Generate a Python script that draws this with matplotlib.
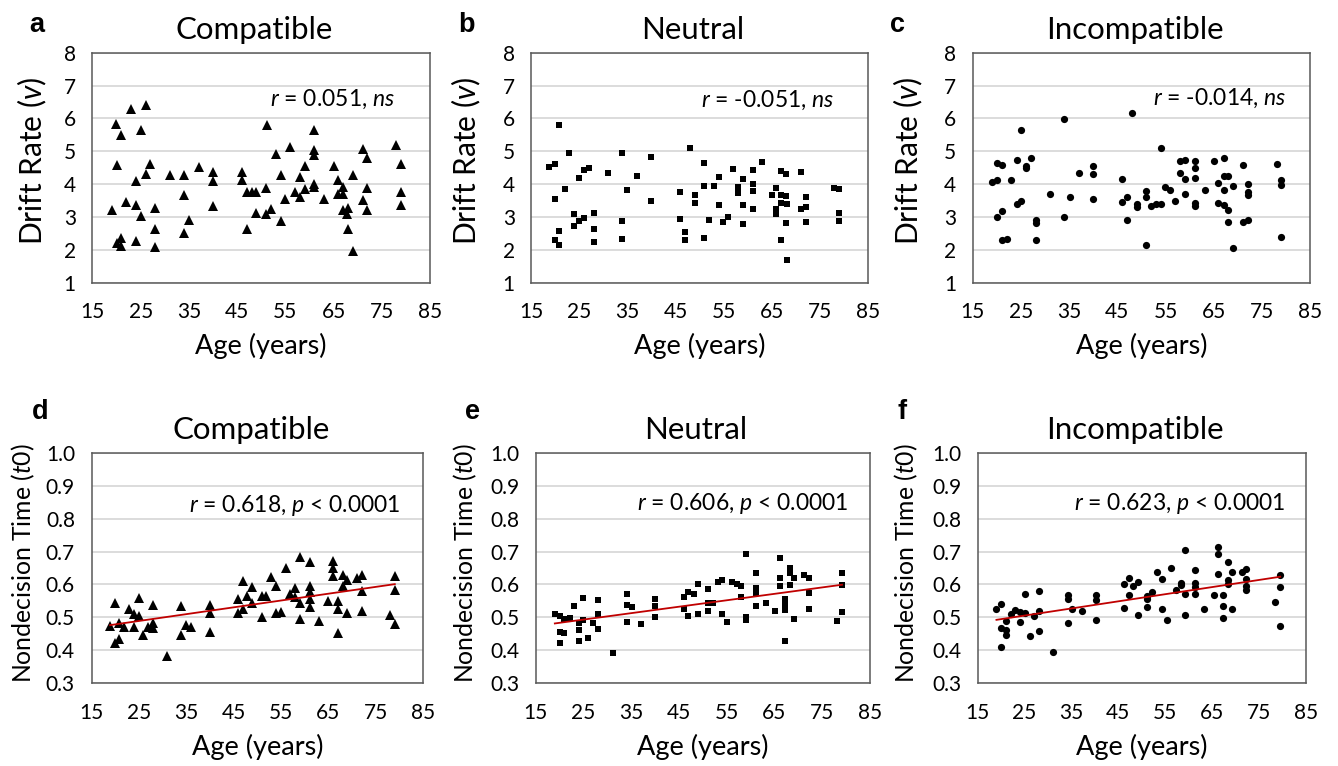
import matplotlib
matplotlib.use("Agg")
import matplotlib.pyplot as plt
import numpy as np

# ---- data ----
# a: Compatible drift rate
a_age = [23, 26, 19.8, 21, 25, 20, 27, 26, 24.1, 31, 34, 37, 40, 40, 34, 19, 22, 24, 25, 28,
         40, 35, 28, 34, 21, 20, 21, 24, 28,
         51.1, 61, 55.9, 53, 61, 61, 71, 72, 78, 79, 59, 65, 46, 46, 54, 58, 66, 69,
         47, 48, 49, 51, 61, 61, 59, 57, 58, 55, 63, 67, 66, 67, 72, 71, 72, 67, 68, 67.7,
         49, 51, 52, 54, 47, 68, 69, 79, 79]
a_drift = [6.29, 6.40, 5.82, 5.50, 5.65, 4.58, 4.62, 4.30, 4.10, 4.27, 4.27, 4.52, 4.36, 4.09,
           3.68, 3.21, 3.46, 3.36, 3.03, 3.28, 3.33, 2.91, 2.64, 2.52, 2.37, 2.22, 2.11, 2.27, 2.10,
           5.79, 5.66, 5.13, 4.92, 5.05, 4.90, 5.07, 4.79, 5.20, 4.60, 4.55, 4.55, 4.36, 4.13,
           4.29, 4.23, 4.13, 4.28, 3.77, 3.77, 3.77, 3.89, 3.99, 3.91, 3.86, 3.76, 3.62, 3.56,
           3.56, 3.92, 3.70, 3.70, 3.88, 3.52, 3.21, 3.21, 3.26, 3.10, 3.12, 3.09, 3.25, 2.89,
           2.65, 2.64, 1.98, 3.77, 3.38]

# b: Neutral drift rate
b_age = [20.8, 18.7, 19.8, 22.9, 21.9, 19.8, 24.9, 25.9, 26.9, 30.9, 33.9, 36.9, 39.9, 34.9,
         39.9, 23.9, 23.9, 24.9, 25.9, 27.9, 27.9, 27.9, 20.8, 19.8, 20.8, 33.9, 33.9,
         47.9, 50.9, 56.9, 61, 63, 66.9, 67.9, 71, 53.9, 58.9, 50.9, 52.9, 58, 58, 61, 61,
         45.9, 48.9, 48.9, 53.9, 58.9, 61, 65.9, 64.9, 66.9, 67.9, 66.9, 68, 65.9, 65.9,
         71, 72, 72, 72, 77.9, 79, 79, 79, 45.9, 46.9, 46.9, 50.9, 51.9, 54.9, 55.9, 58.9,
         67.9, 66.9, 68]
b_drift = [5.79, 4.51, 4.61, 4.96, 3.85, 3.56, 4.18, 4.43, 4.50, 4.33, 4.96, 4.26, 4.82, 3.81,
           3.50, 3.09, 2.73, 2.88, 2.98, 3.12, 2.62, 2.24, 2.57, 2.29, 2.14, 2.88, 2.34,
           5.09, 4.65, 4.45, 4.44, 4.67, 4.40, 4.30, 4.36, 4.22, 4.16, 3.93, 3.95, 3.90, 3.74,
           4.00, 3.79, 3.75, 3.68, 3.43, 3.38, 3.38, 3.25, 3.88, 3.68, 3.66, 3.65, 3.44, 3.39,
           3.23, 3.10, 3.24, 3.29, 3.61, 2.85, 3.87, 3.85, 3.12, 2.88, 2.93, 2.55, 2.31, 2.37,
           2.90, 2.85, 3.00, 2.79, 2.82, 2.29, 1.69]

# c: Incompatible drift rate
c_age = [19, 20, 20, 21.1, 23, 25, 24.1, 26.1, 26.1, 27, 24.1, 25, 20, 21.1, 21.1, 22.1,
         28.1, 28.1, 28.1, 31, 34, 34, 35.1, 37.1, 40, 40, 40,
         48, 46, 46, 47, 47, 49, 49, 51, 51, 51, 52, 53, 54.1, 54, 55, 56, 57, 58, 59.1, 58,
         59.1, 59.1, 61.1, 61.1, 61.1, 61.1, 61.1, 63.1, 65.1, 67.1, 66, 67.1, 68, 67.1, 66,
         67.1, 68, 68, 69.1, 69.1, 71.1, 71.1, 72.1, 72.1, 72.1, 72.1, 78.1, 79, 79, 79]
c_drift = [4.07, 4.14, 4.63, 4.59, 4.12, 5.65, 4.73, 4.48, 4.56, 4.79, 3.40, 3.50, 3.00, 3.19,
           2.30, 2.33, 2.91, 2.83, 2.29, 3.70, 5.99, 2.99, 3.61, 4.33, 4.55, 4.31, 3.55,
           6.15, 4.17, 3.47, 3.61, 2.90, 3.39, 3.31, 3.79, 3.60, 2.16, 3.34, 3.41, 3.40, 5.09,
           3.92, 3.83, 3.49, 4.69, 4.72, 4.35, 4.17, 3.71, 4.70, 4.50, 4.20, 3.43, 3.34, 3.82,
           4.70, 4.80, 4.02, 4.26, 4.24, 3.83, 3.44, 3.36, 3.21, 2.84, 3.95, 2.06, 4.57, 2.84,
           2.92, 3.99, 3.76, 3.67, 4.60, 4.12, 3.96, 2.39]

# d: Compatible nondecision time
d_age = [18.9, 19.9, 19.9, 20.8, 20.8, 21.9, 22.9, 23.9, 24.9, 24.9, 23.9, 25.9, 27, 27.9,
         27.9, 27.9, 30.9, 33.9, 33.9, 34.9, 36, 39.9, 39.9, 39.9,
         45.9, 45.9, 46.9, 46.9, 47.9, 48.9, 48.9, 50.9, 50.9, 51.9, 52.9, 53.9, 53.9, 55,
         56, 56.9, 58, 58, 59, 59, 59, 61, 61, 61, 61, 61, 63, 65, 66, 66, 66, 67, 67, 67,
         68, 68, 69, 69, 71, 72, 72, 72, 79, 79, 78, 79]
d_t0 = [0.474, 0.543, 0.421, 0.433, 0.484, 0.470, 0.527, 0.509, 0.560, 0.505, 0.470, 0.446,
        0.472, 0.482, 0.537, 0.467, 0.383, 0.534, 0.446, 0.477, 0.472, 0.538, 0.512, 0.455,
        0.555, 0.512, 0.609, 0.527, 0.566, 0.592, 0.543, 0.566, 0.500, 0.566, 0.623, 0.596,
        0.512, 0.515, 0.650, 0.570, 0.590, 0.563, 0.682, 0.543, 0.496, 0.668, 0.596, 0.578,
        0.555, 0.532, 0.489, 0.549, 0.670, 0.649, 0.626, 0.549, 0.525, 0.454, 0.630, 0.596,
        0.613, 0.514, 0.621, 0.630, 0.581, 0.519, 0.626, 0.583, 0.506, 0.479]

# e: Neutral nondecision time
e_age = [19, 20, 21, 22.1, 20, 21, 20, 23, 25, 25, 24, 24, 24, 26, 27, 28, 28, 28, 31.1,
         34.1, 34.1, 35.1, 34.1, 37.1, 40.1, 40.1, 40.1,
         46, 46, 47, 48.1, 47, 49.1, 49.1, 51.1, 51.1, 51.1, 52.1, 53.1, 54.1, 54.1, 55.1,
         56.1, 57.2, 58.1, 58.1, 59.1, 59.1, 59.1, 61.2, 61.2, 61.2, 61.2, 63.2, 65.2, 66.2,
         66.2, 66.2, 67.2, 67.2, 67.2, 67.2, 68.2, 68.2, 68.2, 69.2, 69.2, 71.2, 72.2, 72.2,
         72.2, 78.2, 79.2, 79.2, 79.2]
e_t0 = [0.510, 0.505, 0.495, 0.499, 0.455, 0.453, 0.422, 0.536, 0.558, 0.491, 0.484, 0.462,
        0.427, 0.437, 0.482, 0.552, 0.511, 0.464, 0.393, 0.570, 0.538, 0.532, 0.486, 0.479,
        0.556, 0.536, 0.502,
        0.561, 0.526, 0.578, 0.570, 0.504, 0.601, 0.509, 0.586, 0.518, 0.543, 0.544, 0.606,
        0.613, 0.511, 0.486, 0.608, 0.600, 0.596, 0.561, 0.693, 0.501, 0.491, 0.634, 0.590,
        0.573, 0.536, 0.545, 0.520, 0.680, 0.619, 0.595, 0.557, 0.538, 0.521, 0.429, 0.650,
        0.636, 0.598, 0.619, 0.494, 0.630, 0.620, 0.575, 0.524, 0.489, 0.634, 0.597, 0.517]

# f: Incompatible nondecision time
f_age = [19, 20, 20, 20, 21, 21, 21, 22.1, 23, 24.1, 24.1, 25.1, 25.1, 26.1, 27.1, 28.1,
         28.1, 28.1, 31.1, 34.2, 34.2, 34.2, 35.1, 37.2, 40.2, 40.2, 40.2,
         46.2, 46.2, 47.2, 47.2, 48.2, 49.2, 49.2, 51.2, 51.2, 51.2, 52.2, 53.3, 54.3, 54.3,
         55.3, 56.3, 57.3, 58.3, 58.3, 59.3, 59.3, 59.3, 61.3, 61.3, 61.3, 61.3, 63.3, 65.3,
         66.3, 66.3, 66.3, 67.4, 67.4, 67.4, 68.4, 68.4, 68.4, 69.3, 69.3, 71.4, 72.3, 72.3,
         72.3, 72.3, 78.4, 79.5, 79.5, 79.5]
f_t0 = [0.527, 0.541, 0.467, 0.409, 0.489, 0.462, 0.448, 0.510, 0.521, 0.516, 0.485, 0.570,
        0.512, 0.444, 0.505, 0.581, 0.520, 0.459, 0.396, 0.568, 0.556, 0.484, 0.525, 0.519,
        0.568, 0.553, 0.491,
        0.601, 0.530, 0.619, 0.567, 0.595, 0.607, 0.506, 0.565, 0.555, 0.533, 0.578, 0.638,
        0.618, 0.525, 0.492, 0.651, 0.584, 0.605, 0.597, 0.706, 0.572, 0.507, 0.643, 0.605,
        0.593, 0.572, 0.525, 0.567, 0.713, 0.692, 0.632, 0.567, 0.536, 0.497, 0.667, 0.613,
        0.601, 0.639, 0.527, 0.638, 0.646, 0.617, 0.596, 0.583, 0.546, 0.628, 0.593, 0.474]

titles = ["Compatible", "Neutral", "Incompatible"]
letters = ["a", "b", "c", "d", "e", "f"]
stats_top = ["$r$ = 0.051, $ns$", "$r$ = -0.051, $ns$", "$r$ = -0.014, $ns$"]
stats_bot = ["$r$ = 0.618, $p$ < 0.0001", "$r$ = 0.606, $p$ < 0.0001",
             "$r$ = 0.623, $p$ < 0.0001"]
age_ticks = [15, 25, 35, 45, 55, 65, 75, 85]
drift_ticks = [1, 2, 3, 4, 5, 6, 7, 8]
t0_ticks = [0.3, 0.4, 0.5, 0.6, 0.7, 0.8, 0.9, 1.0]

FONT = ["Lato", "DejaVu Sans"]
plt.rcParams.update({
    "font.family": FONT,
    "mathtext.fontset": "custom",
    "mathtext.rm": "Lato",
    "mathtext.it": "Lato:italic",
})

GRID = "#d9d9d9"
FRAME = "#595959"
LINE_RED = "#c00000"

fig = plt.figure(figsize=(13.38, 7.66), dpi=100)

# axes boxes in figure fractions: left, bottom, width, height
boxes = [
    [0.0691, 0.6309, 0.2523, 0.3003],
    [0.3972, 0.6309, 0.2518, 0.3003],
    [0.7270, 0.6309, 0.2521, 0.3003],
    [0.0685, 0.1080, 0.2478, 0.3010],
    [0.4004, 0.1080, 0.2496, 0.3010],
    [0.7307, 0.1080, 0.2454, 0.3010],
]
stat_pos = [(0.896, 0.797), (0.901, 0.795), (0.931, 0.80),
            (0.93, 0.773), (0.936, 0.78), (0.937, 0.78)]
# y-label anchor (right edge x, centre y) in axes fractions
ylab_pos = [(-0.13, 0.53), (-0.145, 0.53), (-0.141, 0.53),
            (-0.166, 0.52), (-0.170, 0.52), (-0.176, 0.52)]

panels = [
    (a_age, a_drift, "^", 7.8),
    (b_age, b_drift, "s", 4.8),
    (c_age, c_drift, "o", 5.2),
    (d_age, d_t0, "^", 7.8),
    (e_age, e_t0, "s", 4.8),
    (f_age, f_t0, "o", 5.2),
]

for i, (x, y, mk, ms) in enumerate(panels):
    ax = fig.add_axes(boxes[i])
    top = i < 3
    ax.plot(x, y, linestyle="none", marker=mk, ms=ms, color="black",
            markeredgewidth=0, zorder=3)
    if not top:
        slope, icpt = np.polyfit(x, y, 1)
        xs = np.array([min(x), max(x)])
        ax.plot(xs, slope * xs + icpt, color=LINE_RED, lw=1.3, zorder=4)

    ax.set_xlim(15, 85)
    ax.set_xticks(age_ticks)
    if top:
        ax.set_ylim(1, 8)
        ax.set_yticks(drift_ticks)
        ax.set_yticklabels([str(t) for t in drift_ticks])
        ylab = "Drift Rate ($v$)"
    else:
        ax.set_ylim(0.3, 1.0)
        ax.set_yticks(t0_ticks)
        ax.set_yticklabels([f"{t:.1f}" for t in t0_ticks])
        ylab = "Nondecision Time ($t$0)"

    ax.grid(True, axis="y", color=GRID, lw=1.3, zorder=0)
    ax.set_axisbelow(True)
    for s in ax.spines.values():
        s.set_color(FRAME)
        s.set_linewidth(1.1)
    ax.tick_params(length=0, labelsize=15, pad=12, colors="black")
    ax.tick_params(axis="x", pad=14)
    ax.set_xlabel("Age (years)", fontsize=19.5, labelpad=8)
    ax.set_ylabel(ylab, fontsize=21.5 if top else 17.8)
    ax.yaxis.set_label_coords(*ylab_pos[i])

    ax.text(0.48, 1.058, titles[i % 3], transform=ax.transAxes, ha="center",
            va="baseline", fontsize=22.5)
    sx, sy = stat_pos[i]
    ax.text(sx, sy, stats_top[i] if top else stats_bot[i - 3], transform=ax.transAxes,
            ha="right", va="center", fontsize=16.5)

letter_pos = [(37, 25), (466, 25), (897, 25), (40, 412), (472, 412), (902, 412)]
for lt, (px, py) in zip(letters, letter_pos):
    fig.text(px / 1338, 1 - py / 766, lt, fontsize=19.5, fontweight="bold",
             family="Liberation Sans", ha="center", va="center")

fig.savefig("out.png", dpi=100, facecolor="white")
